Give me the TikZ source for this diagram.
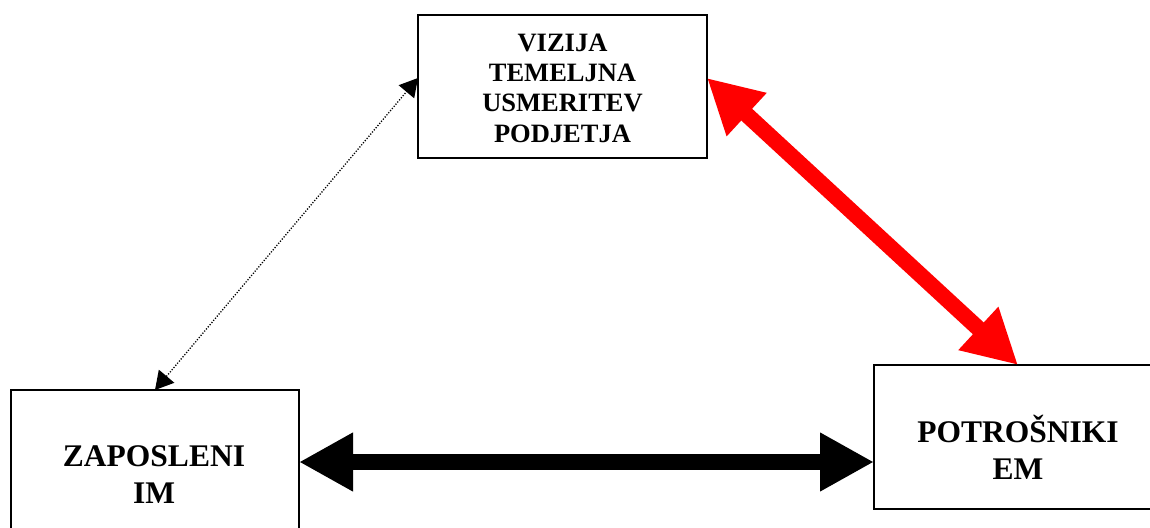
\documentclass[tikz,border=0pt]{standalone}
\usepackage{fontspec}
\setmainfont{Liberation Serif}
\usetikzlibrary{arrows.meta,calc}
\begin{document}
\begin{tikzpicture}[x=1pt,y=-1pt,
  box/.style={draw=black,line width=1.6pt,rectangle,inner sep=0pt,outer sep=0pt,fill=white},
  lbltop/.style={align=center,inner sep=0pt,font=\fontsize{26.5}{30.3}\selectfont\bfseries},
  lblbig/.style={align=center,inner sep=0pt,font=\fontsize{31.5}{36.5}\selectfont\bfseries},
  dotarrow/.style={line width=1.3pt,dash pattern=on 1.2pt off 1.6pt,{Triangle[length=18pt,width=20pt]}-{Triangle[length=18pt,width=20pt]}},
  fatarrow/.style={line width=16pt,{Triangle[length=54pt,width=55pt]}-{Triangle[length=54pt,width=55pt]}}
]
\clip (0,0) rectangle (1150,527);
\fill[white] (0,0) rectangle (1150,527);
% boxes
\node[box,minimum width=289pt,minimum height=143pt] (viz) at (562.5,86.5) {};
\node[box,minimum width=288pt,minimum height=170pt] (zap) at (155,475) {};
\node[box,minimum width=288pt,minimum height=144pt] (pot) at (1018,437) {};
% labels
\node[lbltop] (viztext) at (562.5,88) {VIZIJA\\TEMELJNA\\USMERITEV\\PODJETJA};
\node[lblbig] (zaptext) at (154,474.5) {ZAPOSLENI\\IM};
\node[lblbig] (pottext) at (1018,447.5) {POTROŠNIKI\\EM};
% connectors
\coordinate (vizL) at ($(viz.north west)+(0,63)$);
\coordinate (vizR) at ($(viz.north east)+(0,63)$);
\coordinate (potL) at ($(pot.north west)+(0,97)$);
\draw[dotarrow] (zap.north) -- (vizL);
\draw[fatarrow,red] (vizR) -- (pot.north);
\draw[fatarrow,black] (zap.east |- potL) -- (potL);
\end{tikzpicture}
\end{document}
